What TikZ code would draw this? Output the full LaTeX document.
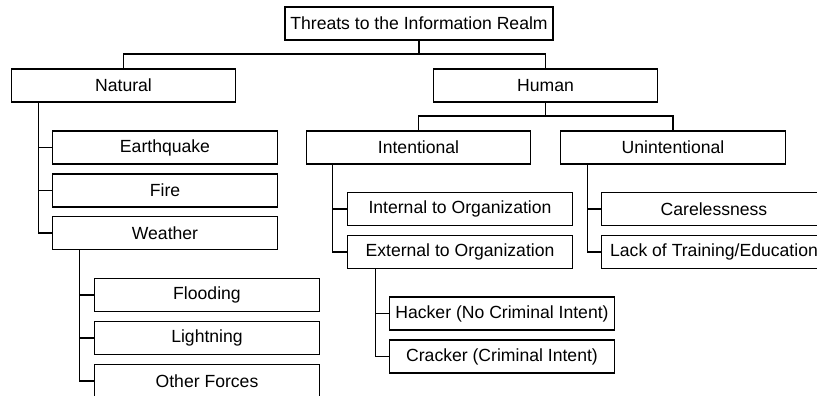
\documentclass[tikz,border=0pt]{standalone}
\usepackage{fontspec}
\setmainfont{Liberation Sans}
\begin{document}
\begin{tikzpicture}[x=1pt,y=-1pt,
  box/.style={draw=black,line width=1.2pt,minimum width=224.5pt,minimum height=33pt,inner sep=0pt,
    font=\fontsize{17.6}{20}\selectfont,anchor=center},
  conn/.style={draw=black,line width=1.2pt}]
\useasboundingbox (0,0) rectangle (817,396);
\clip (0,0) rectangle (817,396);
\node[box,minimum width=268pt] (root) at (419,23.5) {Threats to the Information Realm};
\node[box] (natural) at (123.5,85.5) {Natural};
\node[box] (human) at (545.5,85.5) {Human};
\node[box] (earthquake) at (165,147.5) {Earthquake};
\node[box] (fire) at (165,190.5) {Fire};
\node[box] (weather) at (165,233) {Weather};
\node[box] (flooding) at (207,295) {Flooding};
\node[box] (lightning) at (207,338) {Lightning};
\node[box] (other) at (207,381) {Other Forces};
\node[box] (intentional) at (418.5,147.5) {Intentional};
\node[box] (unintentional) at (673,147.5) {Unintentional};
\node[box] (internal) at (460,209) {Internal to Organization};
\node[box] (external) at (460,252) {External to Organization};
\node[box] (hacker) at (502,313.5) {Hacker (No Criminal Intent)};
\node[box] (cracker) at (502,356.5) {Cracker (Criminal Intent)};
\node[box] (careless) at (714,209) {Carelessness};
\node[box] (lack) at (714,252) {Lack of Training/Education};
% root level
\coordinate (j0) at (419,54);
\draw[conn] (root.south) -- (j0) -| (natural.north);
\draw[conn] (j0) -| (human.north);
% human level
\coordinate (j1) at (545.5,116);
\draw[conn] (human.south) -- (j1) -| (intentional.north);
\draw[conn] (j1) -| (unintentional.north);
% trunks
\coordinate (tn) at ([xshift=27.5pt]natural.south west);
\draw[conn] (tn) |- (earthquake.west);
\draw[conn] (tn) |- (fire.west);
\draw[conn] (tn) |- (weather.west);
\coordinate (tw) at ([xshift=27pt]weather.south west);
\draw[conn] (tw) |- (flooding.west);
\draw[conn] (tw) |- (lightning.west);
\draw[conn] (tw) |- (other.west);
\coordinate (ti) at ([xshift=27pt]intentional.south west);
\draw[conn] (ti) |- (internal.west);
\draw[conn] (ti) |- (external.west);
\coordinate (te) at ([xshift=28pt]external.south west);
\draw[conn] (te) |- (hacker.west);
\draw[conn] (te) |- (cracker.west);
\coordinate (tu) at ([xshift=27.5pt]unintentional.south west);
\draw[conn] (tu) |- (careless.west);
\draw[conn] (tu) |- (lack.west);
\end{tikzpicture}
\end{document}
